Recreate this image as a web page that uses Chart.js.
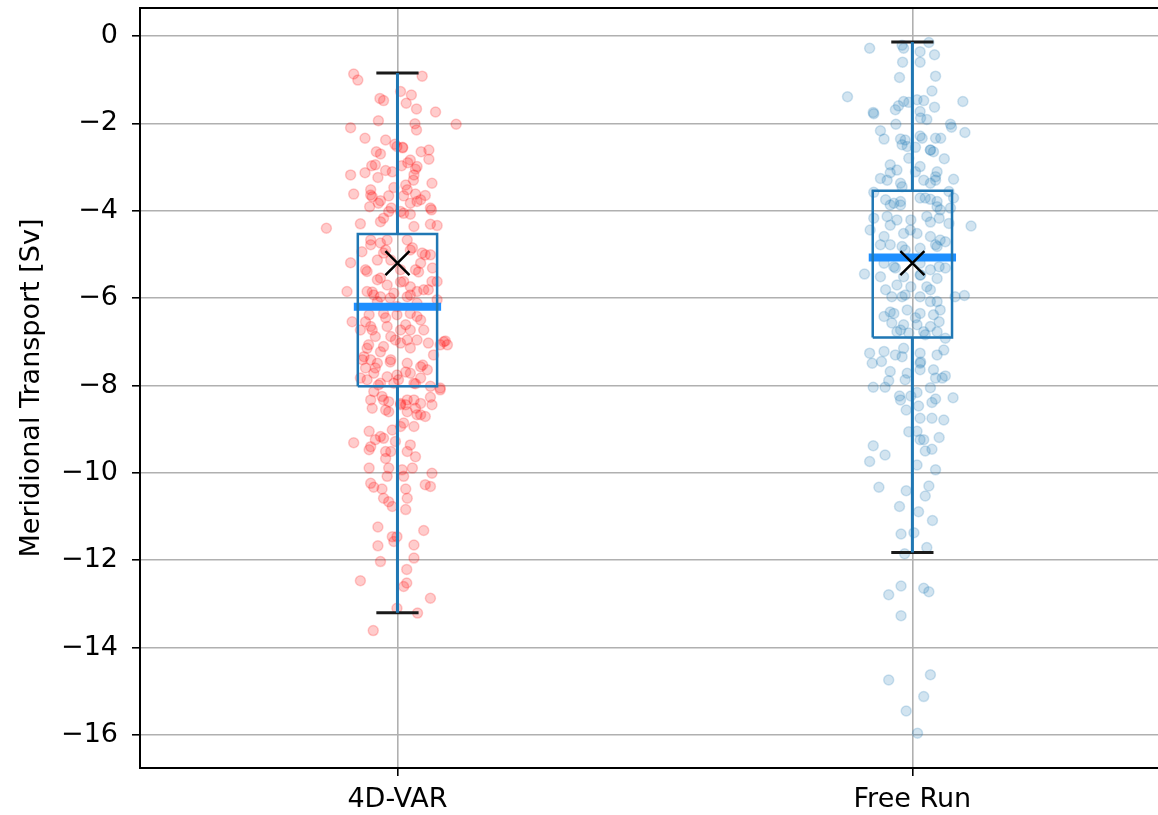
<!DOCTYPE html>
<html>
<head>
<meta charset="utf-8">
<script src="https://cdn.jsdelivr.net/npm/chart.js@4.4.1/dist/chart.umd.min.js"></script>
<style>
  html, body { margin: 0; padding: 0; background: #fff; overflow: hidden; }
</style>
</head>
<body>
<canvas id="chart" width="1158" height="815"></canvas>
<script>
const categories = ["4D-VAR", "Free Run"];
const yTickValues = [0, -2, -4, -6, -8, -10, -12, -14, -16];

// box plot statistics
const boxQ1 = [-8.02, -6.90];
const boxQ3 = [-4.53, -3.54];
const boxMedian = [-6.20, -5.07];
const boxMean = [-5.20, -5.20];
const whiskerLow = [-13.20, -11.82];
const whiskerHigh = [-0.85, -0.14];

// individual samples: value and horizontal jitter (x units around the category)
const varValues = [
  -0.87,-1.01,-0.92,-1.27,-1.35,-1.43,-1.48,-1.54,-1.67,-1.74,
  -1.94,-2.10,-2.01,-2.15,-2.02,-2.34,-2.48,-2.53,-2.55,-2.65,
  -2.70,-2.65,-2.61,-2.82,-2.97,-3.13,-3.18,-3.08,-3.24,-2.97,
  -2.90,-2.99,-3.05,-3.18,-3.30,-3.37,-3.62,-3.64,-3.68,-3.77,
  -3.83,-3.47,-3.52,-3.66,-3.62,-3.65,-3.79,-3.83,-3.91,-3.94,
  -4.02,-4.02,-4.06,-3.94,-3.98,-4.17,-4.25,-4.08,-4.30,-4.40,
  -4.36,-4.31,-4.34,
  -4.94,-5.19,-4.74,-5.13,-4.90,-4.97,-5.01,-5.20,-5.39,-5.58,
  -5.85,-5.85,-5.93,-5.97,-5.70,-5.62,-5.74,-5.85,-5.81,-5.62,
  -5.62,-6.54,-6.38,-6.35,-6.38,-6.35,-6.42,-6.65,-6.73,-6.65,
  -6.73,-6.73,-6.73,-6.88,-6.88,-6.96,-6.96,-7.11,-7.03,-7.15,
  -7.00,-7.07,-7.34,-7.41,-7.49,-7.41,-7.49,-7.57,-7.64,-7.30,
  -7.60,-7.72,-7.80,-7.76,-7.72,-7.83,-7.87,-7.95,-7.95,-7.95,
  -8.02,-8.06,-5.13,-5.35,-4.67,-4.67,-4.67,-4.97,-5.35,-5.89,
  -5.97,-6.19,-6.12,-6.08,-6.04,
  -8.14,-8.25,-8.33,-8.37,-8.41,-8.33,-8.33,-8.41,-8.44,-8.27,
  -8.10,-8.52,-8.60,-8.44,-8.60,-8.52,-8.71,-8.67,-8.86,-8.94,
  -8.94,-9.05,-9.31,-9.17,-9.21,-9.28,-9.40,-9.47,-9.51,-9.51,
  -9.51,-9.63,-9.67,-9.89,-9.89,-9.93,-9.89,-10.08,-10.08,-10.01,
  -10.24,-10.33,-10.37,-10.37,-10.27,-10.31,-10.58,-10.66,-10.77,-10.58,
  -10.84,-11.24,-11.46,-11.46,-11.57,-11.32,-11.67,-11.65,-12.03,-11.95,
  -12.21,-12.47,-12.52,-12.60,-12.87,-13.10,-13.21,-13.61,
  -6.54,-6.73,-6.45,-6.61,-6.50,-7.07,-7.23,-6.96,-7.14,-7.03,
  -7.41,-7.60,-7.46,-7.69,-7.53,-7.07,-6.98,-7.83,-7.99,-7.87,
  -7.96,-4.78,-4.90,-4.85,-5.01,-5.35,-5.54,-5.63,-5.40,-5.31,
  -5.86,-6.00,-5.93,-5.81,-2.38,-2.56,-2.95,-3.11,-2.84,-3.52,
  -3.66,-3.41,-3.75,-8.33,-8.56,-8.44,-8.67,-9.02,-9.24,-9.36
];
const varJitter = [
  -0.085,-0.077,0.048,0.006,0.027,-0.034,-0.027,0.017,0.037,0.074,
  -0.037,-0.091,0.034,0.037,0.114,-0.063,-0.005,-0.001,0.010,-0.041,
  -0.033,0.046,0.061,0.061,-0.050,-0.063,-0.091,-0.023,-0.038,0.008,
  0.020,0.038,0.035,0.032,0.031,0.067,-0.085,-0.052,-0.049,-0.033,
  -0.037,-0.007,0.019,0.012,0.035,0.054,0.038,0.025,-0.054,-0.012,
  -0.017,0.006,0.012,0.064,0.066,-0.027,-0.033,0.025,-0.072,-0.138,
  0.032,0.064,0.077,
  -0.069,-0.091,-0.033,-0.039,0.025,0.048,0.064,0.045,-0.059,-0.039,
  -0.098,-0.059,-0.046,-0.033,-0.020,0.012,0.025,0.038,0.051,0.067,
  0.077,-0.088,-0.055,-0.027,-0.001,0.025,0.038,-0.052,-0.072,-0.020,
  0.006,0.025,0.051,-0.043,-0.013,0.019,0.038,-0.027,0.006,-0.059,
  0.090,0.097,-0.065,-0.052,-0.039,-0.013,0.019,0.045,0.058,0.070,
  -0.062,-0.046,-0.020,-0.001,0.025,0.045,-0.059,-0.033,-0.007,0.032,
  0.064,0.083,-0.013,0.006,-0.020,0.019,-0.052,-0.027,0.035,-0.007,
  0.019,-0.001,0.038,-0.039,0.077,
  -0.046,-0.030,-0.027,-0.017,0.006,0.019,0.032,0.045,0.067,0.064,
  0.083,-0.049,-0.017,0.006,0.019,0.035,0.054,0.038,0.012,0.006,
  0.032,-0.055,-0.085,-0.033,-0.027,-0.004,-0.052,-0.055,-0.023,-0.013,
  0.019,0.035,-0.023,-0.055,-0.017,0.009,0.029,0.012,-0.020,0.067,
  -0.052,-0.046,-0.030,0.016,0.054,0.064,-0.027,-0.017,-0.010,0.019,
  0.016,-0.038,-0.010,-0.001,-0.007,0.051,-0.038,0.032,-0.033,0.032,
  0.018,-0.072,0.018,0.012,0.064,-0.001,0.039,-0.047,
  -0.062,-0.049,-0.023,0.016,0.045,-0.056,-0.033,-0.004,0.025,0.060,
  -0.068,-0.043,-0.014,0.016,0.049,0.083,0.093,-0.072,-0.037,0.002,
  0.035,-0.052,-0.023,0.029,0.054,-0.062,-0.033,0.006,0.041,0.068,
  -0.049,-0.014,0.025,0.060,-0.023,0.010,-0.043,-0.010,0.025,-0.052,
  -0.017,0.016,0.045,-0.052,-0.023,0.016,0.045,-0.010,-0.043,0.025
];

const freeValues = [
  -0.28,-0.21,-0.28,-0.15,-0.36,-0.43,-0.60,-0.60,-0.95,-0.92,
  -1.26,-1.39,-1.50,-1.52,-1.46,-1.48,-1.60,-1.50,-1.63,-1.75,
  -1.78,-1.73,-1.91,-2.02,-2.02,-2.09,-2.17,-2.36,-2.29,-2.34,
  -2.34,-2.34,-2.21,-2.36,-2.49,-2.53,-2.55,-2.61,-2.65,-2.81,
  -2.80,-3.07,-3.13,-3.26,-3.30,-3.37,-2.99,-3.11,-3.22,-3.30,
  -3.37,-3.28,-3.58,-3.45,-3.56,-3.71,-3.83,-3.79,-3.71,-3.74,
  -3.79,
  -3.87,-3.91,-3.94,-4.17,-4.13,-4.21,-4.21,-4.13,-4.17,-4.29,
  -4.35,-4.44,-4.59,-4.52,-4.52,-4.59,-4.67,-4.78,-4.82,-4.86,
  -4.82,-4.71,-5.20,-5.28,-5.20,-5.35,-5.28,-5.45,-5.51,-5.51,
  -5.47,-5.55,-5.70,-5.74,-5.74,-5.97,-5.97,-5.97,-6.08,-6.08,
  -5.97,-5.94,-6.42,-6.35,-6.27,-6.35,-6.38,-6.57,-6.61,-6.61,
  -6.65,-6.54,-6.77,-6.80,-6.77,-6.77,-6.92,-7.26,-7.22,-7.15,
  -7.26,-7.30,-7.19,-7.49,-7.45,-7.34,-7.49,-7.64,-7.78,-7.68,
  -7.72,-7.64,
  -7.83,-7.83,-8.04,-8.04,-7.89,-8.24,-8.24,-8.16,-8.39,-8.31,
  -8.28,-8.56,-8.47,-8.75,-8.75,-8.79,-9.06,-9.05,-9.24,-9.24,
  -9.19,-9.38,-9.59,-9.74,-9.50,-9.46,-9.82,-9.93,-10.33,-10.41,
  -10.30,-10.53,-10.77,-10.89,-11.09,-11.40,-11.37,-11.71,
  -11.85,-12.59,-12.79,-12.64,-12.72,-13.27,-14.74,-14.62,-15.12,-15.45,
  -15.96,
  -3.75,-3.87,-3.71,-3.98,-4.33,-4.44,-4.26,-4.78,-4.90,-4.78,
  -5.31,-5.47,-5.31,-5.81,-5.93,-5.81,-6.32,-6.45,-6.27,-6.73,
  -6.84,-1.69,-1.88,-2.38,-2.61,-2.95,-3.11,-3.30,-7.30,-7.46,
  -7.87,-8.05,-8.33
];
const freeJitter = [
  -0.083,-0.020,-0.017,0.032,0.015,0.043,-0.019,0.015,-0.025,0.045,
  0.038,-0.126,-0.017,-0.007,0.009,0.022,-0.027,0.098,0.043,-0.076,
  -0.075,0.015,0.028,-0.032,0.074,0.076,-0.062,-0.055,0.015,0.019,
  0.045,0.055,0.102,-0.023,-0.020,-0.010,0.006,0.035,0.041,0.062,
  -0.007,-0.030,-0.043,-0.062,-0.049,-0.023,0.015,0.048,0.045,0.022,
  0.035,0.080,-0.075,-0.020,0.071,0.080,-0.036,-0.023,0.015,0.035,
  0.048,
  -0.043,0.048,0.074,-0.075,-0.049,-0.030,-0.003,0.028,0.052,0.071,
  0.114,-0.082,-0.055,-0.017,0.009,0.035,0.054,-0.043,-0.020,0.015,
  0.048,0.064,-0.055,-0.036,0.015,0.035,0.052,-0.093,-0.062,-0.017,
  0.015,0.048,-0.030,-0.003,0.028,-0.040,-0.020,0.015,0.035,0.048,
  0.083,0.101,-0.055,-0.036,-0.010,0.015,0.041,-0.040,-0.017,0.009,
  0.035,0.052,-0.030,-0.007,0.022,0.048,0.064,-0.083,-0.055,-0.017,
  0.015,0.048,0.061,-0.078,-0.060,-0.020,0.015,0.041,0.064,-0.043,
  -0.010,0.015,
  0.045,0.058,-0.076,-0.053,-0.046,-0.025,-0.003,0.009,0.038,0.045,
  0.079,-0.012,0.012,0.015,0.038,0.061,-0.007,0.009,0.015,0.022,
  0.052,-0.076,-0.053,-0.083,0.025,0.038,0.009,0.045,-0.065,-0.012,
  0.032,0.025,-0.025,0.012,0.039,-0.022,0.003,0.028,
  -0.015,-0.022,-0.046,0.022,0.032,-0.022,-0.046,0.035,0.022,-0.012,
  0.010,
  -0.052,-0.023,0.025,0.054,-0.043,-0.004,0.035,-0.062,-0.014,0.045,
  -0.033,0.016,0.064,-0.052,-0.014,0.035,-0.043,0.006,0.054,-0.023,
  0.025,-0.033,0.016,-0.014,0.035,-0.043,0.006,0.045,-0.033,0.016,
  -0.014,0.035,-0.023
];

const boxHalf = 0.077;
const capHalf = 0.041;
const font = "'DejaVu Sans', sans-serif";

function samples(values, jitter, pos) {
  return values.map((v, i) => ({ x: pos + jitter[i], y: v }));
}

function seg(points, color, width, cap) {
  return {
    data: points,
    showLine: true,
    borderColor: color,
    borderWidth: width,
    borderCapStyle: cap || "butt",
    pointRadius: 0,
    fill: false,
    order: 1,
  };
}

function boxDatasets(i) {
  const c = i + 1;
  return [
    seg([{ x: c, y: boxQ3[i] }, { x: c, y: whiskerHigh[i] }], "#1f77b4", 3),
    seg([{ x: c, y: boxQ1[i] }, { x: c, y: whiskerLow[i] }], "#1f77b4", 3),
    seg([
      { x: c - boxHalf, y: boxQ1[i] }, { x: c + boxHalf, y: boxQ1[i] },
      { x: c + boxHalf, y: boxQ3[i] }, { x: c - boxHalf, y: boxQ3[i] },
      { x: c - boxHalf, y: boxQ1[i] },
    ], "#1f77b4", 2.5),
    seg([{ x: c - capHalf, y: whiskerHigh[i] }, { x: c + capHalf, y: whiskerHigh[i] }], "#1a1a1a", 3),
    seg([{ x: c - capHalf, y: whiskerLow[i] }, { x: c + capHalf, y: whiskerLow[i] }], "#1a1a1a", 3),
    seg([{ x: c - boxHalf, y: boxMedian[i] }, { x: c + boxHalf, y: boxMedian[i] }], "#1e8fff", 8, "square"),
    {
      data: [{ x: c, y: boxMean[i] }],
      pointStyle: "crossRot",
      pointRadius: 17,
      borderColor: "#000",
      borderWidth: 2.5,
      order: 0,
    },
  ];
}

const frameTop = {
  id: "frameTop",
  afterDraw(chart) {
    const { ctx, chartArea } = chart;
    ctx.save();
    ctx.strokeStyle = "#000";
    ctx.lineWidth = 2;
    ctx.beginPath();
    ctx.moveTo(chartArea.left, chartArea.top);
    ctx.lineTo(chartArea.right, chartArea.top);
    ctx.stroke();
    ctx.restore();
  },
};

const datasets = [
  ...boxDatasets(0),
  ...boxDatasets(1),
  {
    data: samples(varValues, varJitter, 1),
    backgroundColor: "rgba(255,0,0,0.2)",
    borderColor: "rgba(255,0,0,0.2)",
    borderWidth: 1.5,
    pointRadius: 5,
    order: 2,
  },
  {
    data: samples(freeValues, freeJitter, 2),
    backgroundColor: "rgba(31,119,180,0.2)",
    borderColor: "rgba(31,119,180,0.2)",
    borderWidth: 1.5,
    pointRadius: 5,
    order: 2,
  },
];

new Chart(document.querySelector("#chart"), {
  type: "scatter",
  data: { datasets },
  options: {
    responsive: false,
    animation: false,
    layout: { autoPadding: false, padding: { top: 8, left: 0, right: 0, bottom: 0 } },
    plugins: { legend: { display: false }, tooltip: { enabled: false } },
    scales: {
      x: {
        type: "linear",
        min: 0.5,
        max: 2.477,
        afterBuildTicks: (s) => { s.ticks = categories.map((c, i) => ({ value: i + 1 })); },
        afterFit: (s) => { s.height = 47; s.paddingLeft = 0; s.paddingRight = 0; },
        ticks: {
          callback: (v, i) => categories[i],
          font: { family: font, size: 27 },
          color: "#000",
          padding: 8,
          maxRotation: 0,
          autoSkip: false,
        },
        grid: { color: "#b0b0b0", lineWidth: 1.6, tickColor: "#000", tickLength: 8, tickWidth: 1.6 },
        border: { color: "#000", width: 2 },
      },
      y: {
        min: -16.755,
        max: 0.64,
        afterBuildTicks: (s) => { s.ticks = yTickValues.map((v) => ({ value: v })); },
        afterFit: (s) => { s.width = 140; s.paddingTop = 0; s.paddingBottom = 0; },
        ticks: {
          callback: (v) => (v < 0 ? "\u2212" + (-v) : String(v)),
          font: { family: font, size: 27 },
          color: "#000",
          padding: 14,
        },
        grid: { color: "#b0b0b0", lineWidth: 1.6, tickColor: "#000", tickLength: 8, tickWidth: 1.6 },
        border: { color: "#000", width: 2 },
        title: {
          display: true,
          text: "Meridional Transport [Sv]",
          font: { family: font, size: 27 },
          color: "#000",
          padding: { top: 16, bottom: 0 },
        },
      },
    },
  },
  plugins: [frameTop],
});
</script>
</body>
</html>
